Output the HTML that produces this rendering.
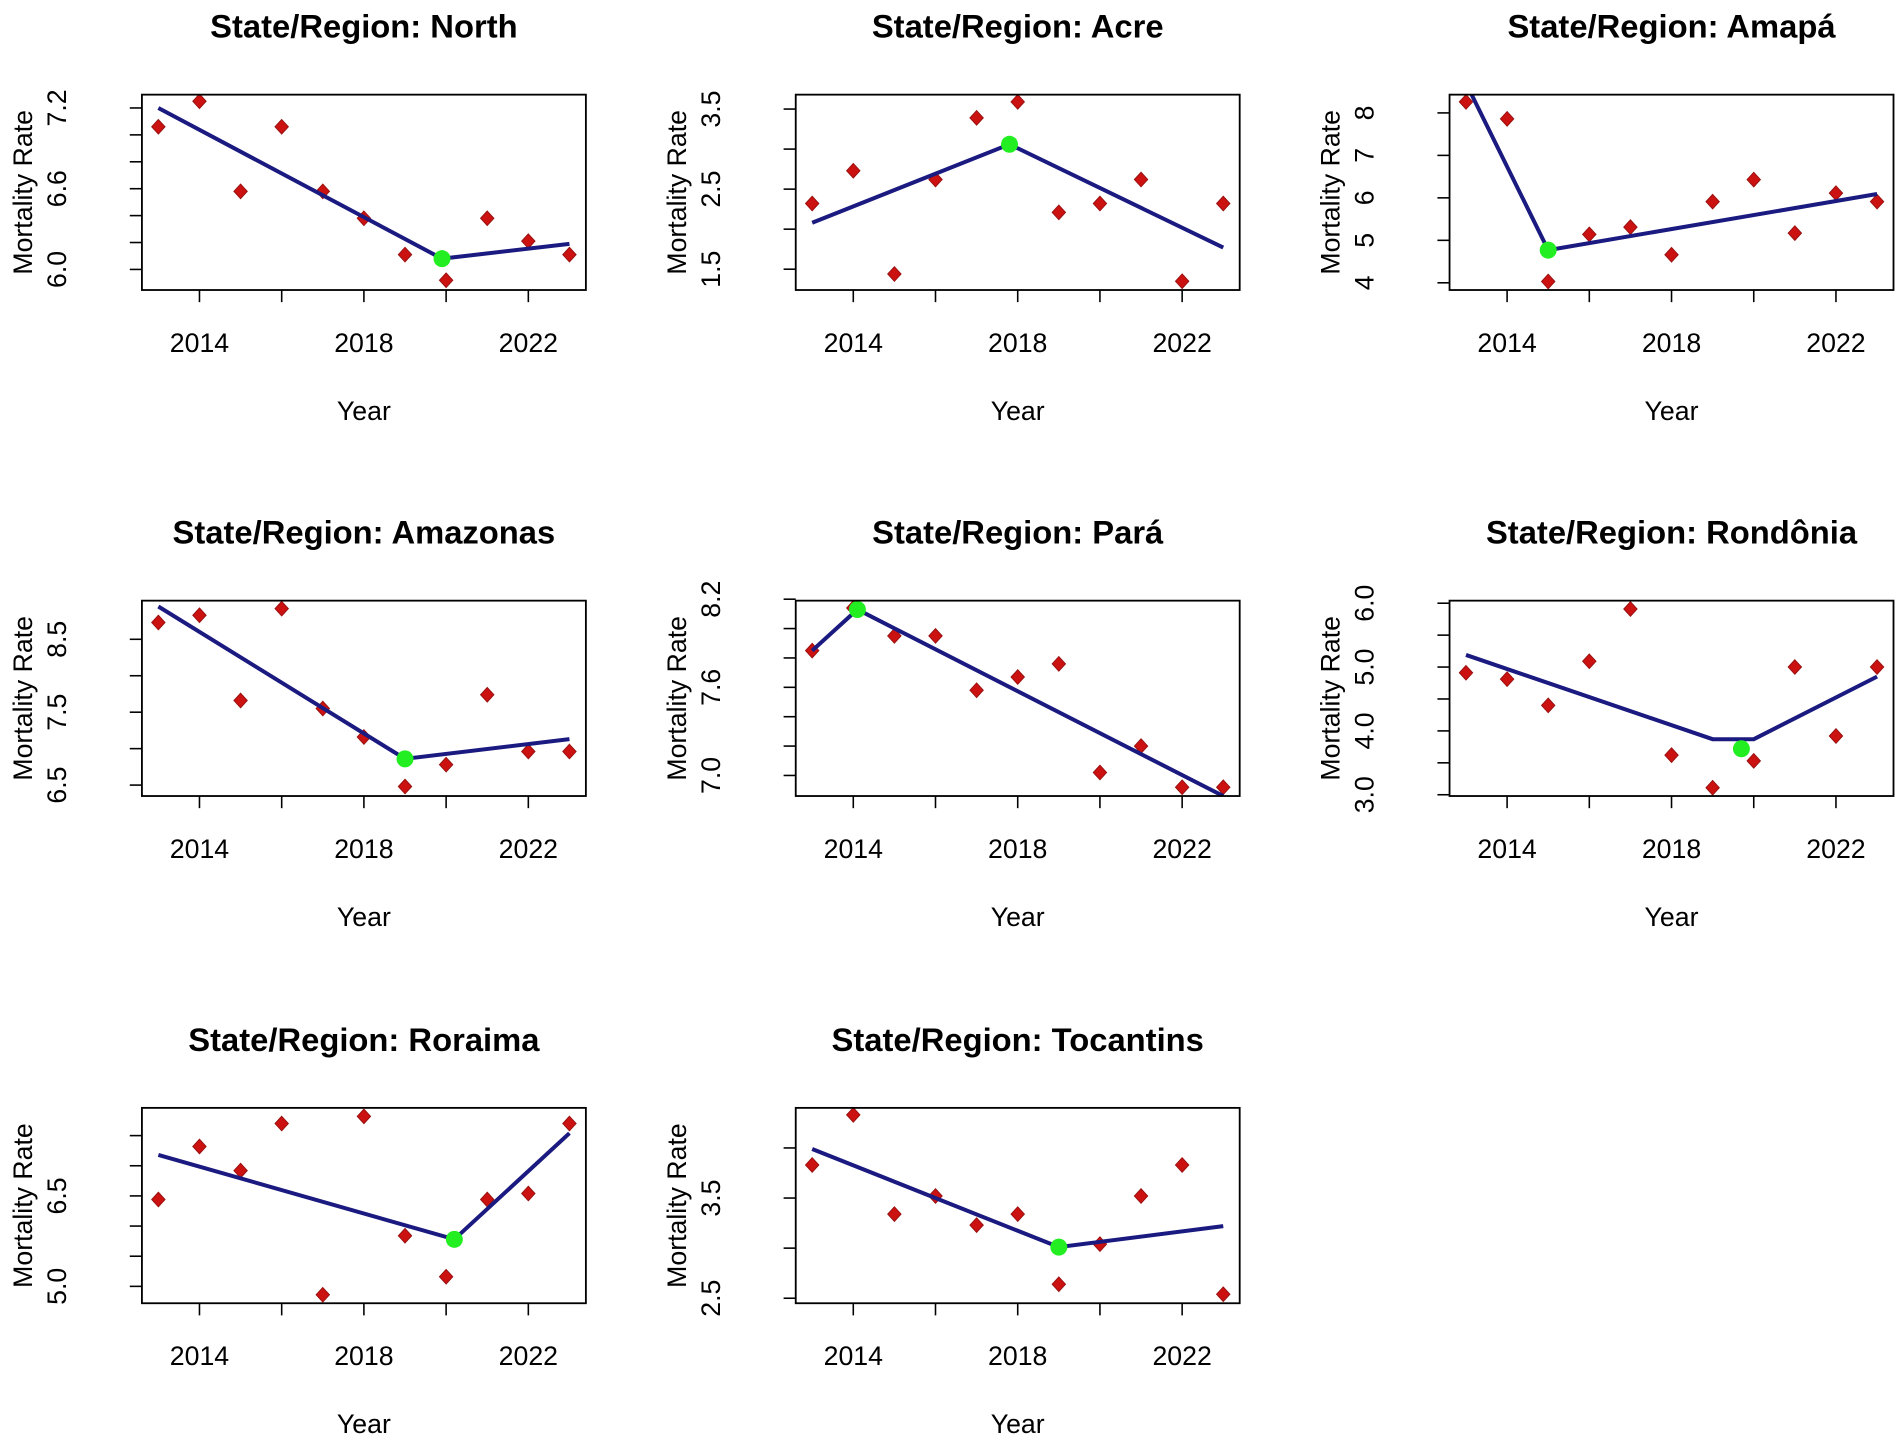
<!DOCTYPE html>
<html><head><meta charset="utf-8"><style>
html,body{margin:0;padding:0;background:#fff;}
svg{display:block;font-family:"Liberation Sans",Arial,sans-serif;}
</style></head><body>
<svg id="chart" width="1902" height="1444" viewBox="0 0 1568 1190" preserveAspectRatio="none" xmlns="http://www.w3.org/2000/svg"></svg>
<script>
const years = [2013,2014,2015,2016,2017,2018,2019,2020,2021,2022,2023];
const panelNames = ["North","Acre","Amapá","Amazonas","Pará","Rondônia","Roraima","Tocantins"];
const northVals = [7.06,7.25,6.58,7.06,6.58,6.38,6.11,5.92,6.38,6.21,6.11];
const acreVals = [2.32,2.73,1.44,2.62,3.39,3.59,2.21,2.32,2.62,1.35,2.32];
const amapaVals = [8.26,7.86,4.03,5.14,5.31,4.66,5.91,6.43,5.17,6.11,5.91];
const amazonasVals = [8.73,8.83,7.66,8.92,7.55,7.16,6.48,6.78,7.74,6.96,6.96];
const paraVals = [7.85,8.14,7.95,7.95,7.58,7.67,7.76,7.02,7.20,6.92,6.92];
const rondoniaVals = [4.91,4.81,4.40,5.09,5.91,3.62,3.11,3.53,5.0,3.92,5.0];
const roraimaVals = [6.44,7.32,6.92,7.7,4.86,7.82,5.84,5.16,6.44,6.54,7.70];
const tocantinsVals = [3.83,4.33,3.34,3.52,3.23,3.34,2.64,3.04,3.52,3.83,2.54];
// fitted segmented lines: [year, value]
const northFit = [[2013,7.2],[2019.9,6.08],[2023,6.19]];
const acreFit = [[2013,2.08],[2017.8,3.06],[2023,1.77]];
const amapaFit = [[2013,8.7],[2015,4.77],[2023,6.09]];
const amazonasFit = [[2013,8.95],[2019,6.86],[2023,7.13]];
const paraFit = [[2013,7.85],[2014.1,8.13],[2023,6.86]];
const rondoniaFit = [[2013,5.19],[2019,3.87],[2020,3.87],[2023,4.85]];
const roraimaFit = [[2013,7.18],[2020.2,5.78],[2023,7.54]];
const tocantinsFit = [[2013,3.99],[2019,3.01],[2023,3.22]];
// breakpoints (green)
const northBreak = [2019.9,6.08];
const acreBreak = [2017.8,3.06];
const amapaBreak = [2015,4.77];
const amazonasBreak = [2019,6.86];
const paraBreak = [2014.1,8.13];
const rondoniaBreak = [2019.7,3.72];
const roraimaBreak = [2020.2,5.78];
const tocantinsBreak = [2019,3.01];
// y-axis ranges [min,max], tick step, labelled ticks
const yRanges = [[5.847,7.299],[1.24,3.68],[3.83,8.43],[6.35,9.03],[6.86,8.19],[2.98,6.04],[4.72,7.96],[2.45,4.40]];
const yTicks = [[6.0,6.2,6.4,6.6,6.8,7.0,7.2],[1.5,2.0,2.5,3.0,3.5],[4,5,6,7,8],[6.5,7.0,7.5,8.0,8.5],[7.0,7.2,7.4,7.6,7.8,8.0,8.2],[3.0,3.5,4.0,4.5,5.0,5.5,6.0],[5.0,5.5,6.0,6.5,7.0,7.5],[2.5,3.0,3.5,4.0]];
const yLabels = [["6.0","6.6","7.2"],["1.5","2.5","3.5"],["4","5","6","7","8"],["6.5","7.5","8.5"],["7.0","7.6","8.2"],["3.0","4.0","5.0","6.0"],["5.0","6.5"],["2.5","3.5"]];
const xTicks = [2014,2016,2018,2020,2022];
const xLabels = ["2014","2018","2022"];

const allVals=[northVals,acreVals,amapaVals,amazonasVals,paraVals,rondoniaVals,roraimaVals,tocantinsVals];
const allFits=[northFit,acreFit,amapaFit,amazonasFit,paraFit,rondoniaFit,roraimaFit,tocantinsFit];
const allBreaks=[northBreak,acreBreak,amapaBreak,amazonasBreak,paraBreak,rondoniaBreak,roraimaBreak,tocantinsBreak];

const NS="http://www.w3.org/2000/svg";
const svg=document.getElementById('chart');
function mk(tag,attrs,parent){const e=document.createElementNS(NS,tag);for(const k in attrs)e.setAttribute(k,attrs[k]);(parent||svg).appendChild(e);return e;}
const colX=[117,656,1195], rowY=[78,495,913], W=366, H=161;
allVals.forEach((vals,i)=>{
  const L=colX[i%3], T=rowY[Math.floor(i/3)], R=L+W, B=T+H;
  const g=mk('g',{});
  
  
  const x=v=>L+(v-2012.6)/10.8*W;
  const [ymin,ymax]=yRanges[i];
  const y=v=>B-(v-ymin)/(ymax-ymin)*H;
  const cx=L+W/2;
  const t=mk('text',{x:cx,y:T-47,'text-anchor':'middle','font-size':27,'font-weight':'bold',fill:'#000'},g);
  t.textContent='State/Region: '+panelNames[i];
  
  
  const clipId='clip'+i;
  const cp=mk('clipPath',{id:clipId},g);mk('rect',{x:L,y:T,width:W,height:H},cp);
  xTicks.forEach(v=>{const tk=mk('line',{x1:x(v),x2:x(v),y1:B,y2:B+10,stroke:'#000','stroke-width':1.3},g);
    });
  xLabels.forEach(s=>{const tl=mk('text',{x:x(+s),y:B+51,'text-anchor':'middle','font-size':22,fill:'#000'},g);tl.textContent=s;
    });
  const xt=mk('text',{x:cx,y:B+107,'text-anchor':'middle','font-size':22,fill:'#000'},g);xt.textContent='Year';
  
  yTicks[i].forEach(v=>{const tk=mk('line',{x1:L-10,x2:L,y1:y(v),y2:y(v),stroke:'#000','stroke-width':1.3},g);
    });
  yLabels[i].forEach(s=>{const yy=y(+s);const tl=mk('text',{x:0,y:0,transform:`translate(${L-70},${yy}) rotate(-90)`,'text-anchor':'middle','dominant-baseline':'central','font-size':22,fill:'#000'},g);tl.textContent=s;
    });
  const yt=mk('text',{x:0,y:0,transform:`translate(${L-98},${T+H/2}) rotate(-90)`,'text-anchor':'middle','dominant-baseline':'central','font-size':22,fill:'#000'},g);yt.textContent='Mortality Rate';
  
  const inner=mk('g',{'clip-path':`url(#${clipId})`},g);
  vals.forEach((v,j)=>{const px=x(years[j]),py=y(v);const d=mk('polygon',{points:`${px},${py-6} ${px+5.5},${py} ${px},${py+6} ${px-5.5},${py}`,fill:'#cc1111',stroke:'#991111','stroke-width':0.8},inner);
    });
  const ln=mk('polyline',{points:allFits[i].map(p=>x(p[0])+','+y(p[1])).join(' '),fill:'none',stroke:'#1a1a80','stroke-width':3.3},inner);
  
  const bp=allBreaks[i];const c=mk('circle',{cx:x(bp[0]),cy:y(bp[1]),r:7,fill:'#22ee22'},inner);
  
  const box=mk('rect',{x:L,y:T,width:W,height:H,fill:'none',stroke:'#000','stroke-width':1.5},g);
  
});
</script>
</body></html>
